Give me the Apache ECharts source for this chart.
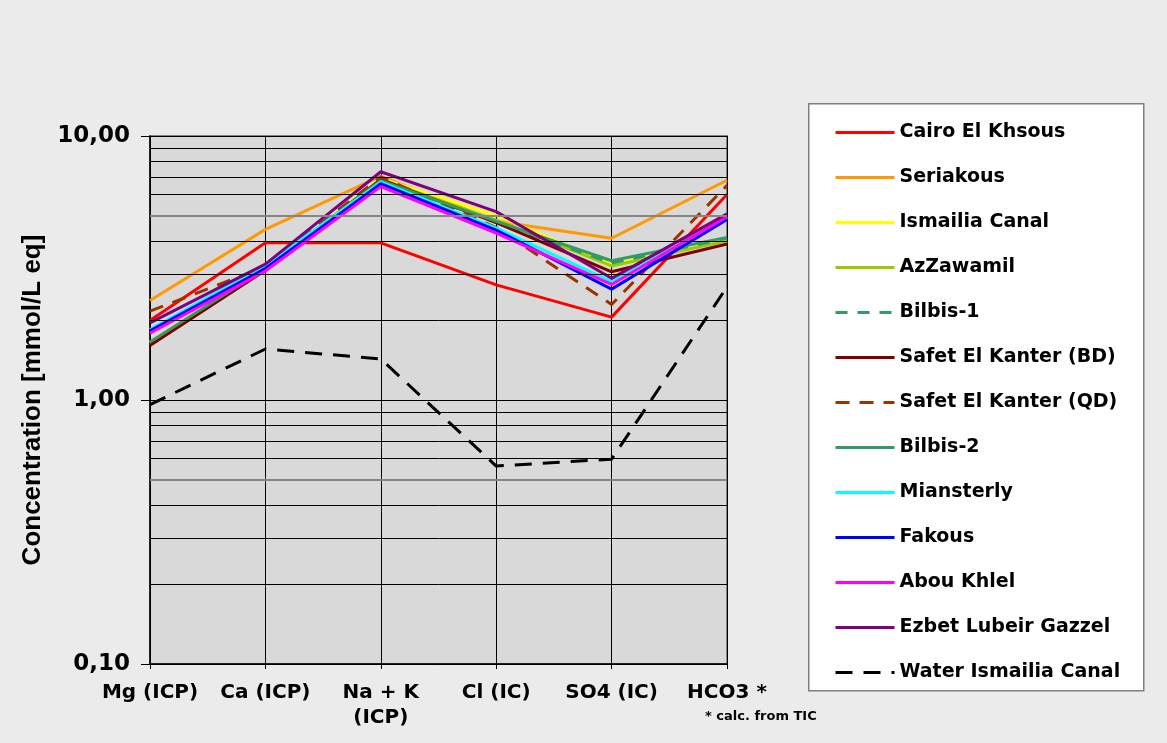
<!DOCTYPE html>
<html>
<head>
<meta charset="utf-8">
<script src="https://cdn.jsdelivr.net/npm/echarts@6/dist/echarts.min.js"></script>
<style>
html,body{margin:0;padding:0;background:#ebebeb;}
#chart{width:1167px;height:743px;}
</style>
</head>
<body>
<div id="chart"></div>
<script>
const categories = ['Mg (ICP)', 'Ca (ICP)', 'Na + K\n(ICP)', 'Cl (IC)', 'SO4 (IC)', 'HCO3 *'];
const yTicks = [0.1, 1, 10];
const minorGrid = [0.2, 0.3, 0.4, 0.6, 0.7, 0.8, 0.9, 2, 3, 4, 6, 7, 8, 9];
const midGrid = [0.5, 5];

const seriesNames = ['Cairo El Khsous', 'Seriakous', 'Ismailia Canal', 'AzZawamil', 'Bilbis-1',
  'Safet El Kanter (BD)', 'Safet El Kanter (QD)', 'Bilbis-2', 'Miansterly', 'Fakous',
  'Abou Khlel', 'Ezbet Lubeir Gazzel', 'Water Ismailia Canal'];

const cairo      = [2.00, 3.94, 3.94, 2.73, 2.06, 6.00];
const seriakous  = [2.38, 4.43, 7.05, 4.75, 4.10, 6.80];
const ismailia   = [1.66, 3.18, 6.90, 5.00, 3.27, 4.00];
const azzawamil  = [1.64, 3.15, 6.85, 4.80, 3.22, 4.01];
const bilbis1    = [1.65, 3.12, 6.80, 4.70, 3.30, 4.10];
const safetBD    = [1.61, 3.10, 6.85, 4.70, 3.06, 3.90];
const safetQD    = [2.17, 3.20, 7.00, 4.50, 2.30, 6.50];
const bilbis2    = [1.66, 3.15, 6.78, 4.75, 3.37, 4.13];
const miansterly = [1.85, 3.24, 6.70, 4.48, 2.81, 4.90];
const fakous     = [1.83, 3.15, 6.60, 4.40, 2.63, 4.83];
const abouKhlel  = [1.79, 3.08, 6.43, 4.29, 2.74, 4.95];
const ezbet      = [1.96, 3.27, 7.32, 5.17, 2.89, 5.07];
const water      = [0.96, 1.56, 1.43, 0.562, 0.597, 2.68];

const values = [cairo, seriakous, ismailia, azzawamil, bilbis1, safetBD, safetQD,
  bilbis2, miansterly, fakous, abouKhlel, ezbet, water];
const colors = ['#ff0000', '#ff9900', '#ffff00', '#99cc00', '#339966', '#800000', '#993300',
  '#339966', '#00ffff', '#0000ff', '#ff00ff', '#800080', '#000000'];
const dashes = [null, null, null, null, [12, 10], null, [14, 10], null, null, null, null, null, [17, 11]];

const chart = echarts.init(document.getElementById('chart'));

const gridSeries = {
  type: 'line', name: '_grid', data: categories.map(() => null), silent: true,
  markLine: {
    silent: true, symbol: 'none', label: {show: false}, animation: false,
    data: minorGrid.map(v => ({yAxis: v, lineStyle: {color: '#000', width: 1, type: 'solid'}}))
      .concat(midGrid.map(v => ({yAxis: v, lineStyle: {color: '#858585', width: 2, type: 'solid'}})))
  }
};

const dataSeries = seriesNames.map((n, i) => ({
  type: 'line', name: n, data: values[i], symbol: 'none', showSymbol: false,
  lineStyle: {color: colors[i], width: 3, type: dashes[i] || 'solid'},
  itemStyle: {color: colors[i]},
  animation: false
}));

const font = 'DejaVu Sans';

chart.setOption({
  backgroundColor: '#ebebeb',
  animation: false,
  grid: {left: 150, right: 440, top: 136, bottom: 79, show: true, backgroundColor: '#d9d9d9',
    borderColor: '#858585', borderWidth: 2},
  legend: {
    data: seriesNames, orient: 'vertical', left: 829, top: 118, padding: 5,
    itemWidth: 59, itemHeight: 20, itemGap: 26, selectedMode: false,
    itemStyle: {opacity: 0},
    lineStyle: {width: 3},
    textStyle: {fontFamily: font, fontWeight: 'bold', fontSize: 19, color: '#000'}
  },
  graphic: [
    {type: 'rect', left: 808, top: 103, z: -1, shape: {width: 335, height: 587},
      style: {fill: '#ffffff', stroke: '#808080', lineWidth: 1.5}},
    {type: 'text', left: 705, top: 710, style: {text: '* calc. from TIC', fontFamily: font,
      fontWeight: 'bold', fontSize: 13, fill: '#000'}}
  ],
  xAxis: {
    type: 'category', data: categories, boundaryGap: false,
    axisLine: {lineStyle: {color: '#000', width: 1.5}},
    axisTick: {show: true, length: 5, lineStyle: {color: '#000'}},
    splitLine: {show: true, lineStyle: {color: '#000', width: 1}},
    axisLabel: {fontFamily: font, fontWeight: 'bold', fontSize: 20, color: '#000', margin: 16,
      lineHeight: 25, interval: 0}
  },
  yAxis: {
    type: 'log', logBase: 10, min: yTicks[0], max: yTicks[yTicks.length - 1],
    name: 'Concentration [mmol/L eq]', nameLocation: 'middle', nameGap: 104,
    nameTextStyle: {fontFamily: 'Liberation Sans', fontWeight: 'bold', fontSize: 26, color: '#000'},
    axisLine: {show: true, lineStyle: {color: '#000', width: 1.5}},
    axisTick: {show: true, length: 9, lineStyle: {color: '#000'}},
    splitLine: {show: true, lineStyle: {color: '#000', width: 1}},
    axisLabel: {fontFamily: font, fontWeight: 'bold', fontSize: 23, color: '#000', margin: 20,
      formatter: v => v.toFixed(2).replace('.', ',')}
  },
  series: [gridSeries].concat(dataSeries)
});
</script>
</body>
</html>
